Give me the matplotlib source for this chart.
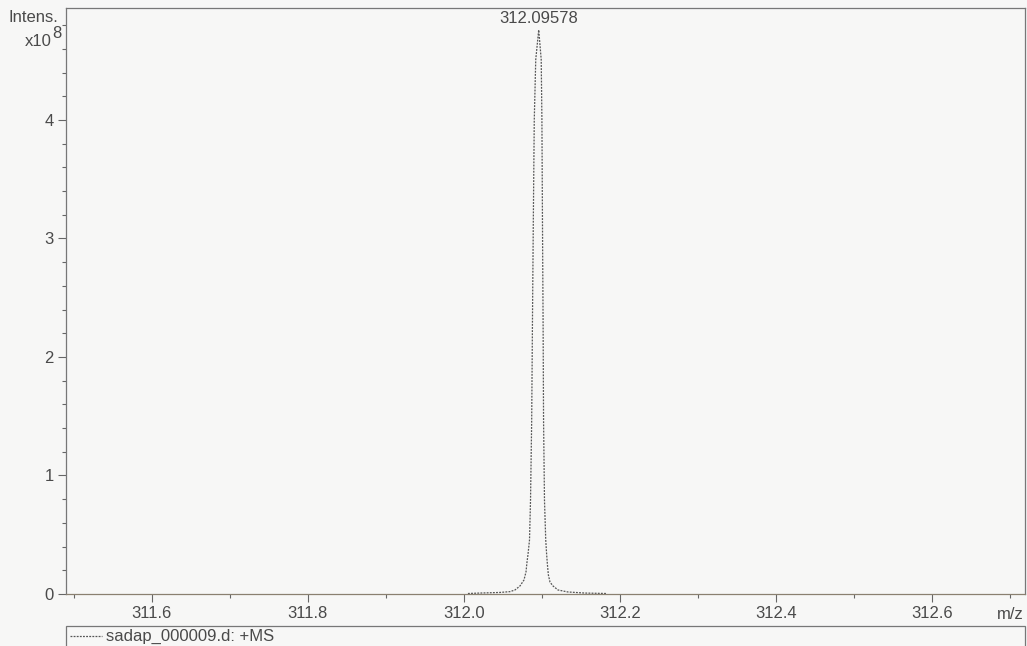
import matplotlib.pyplot as plt
from matplotlib.ticker import MultipleLocator
from matplotlib.patches import Rectangle

plt.rcParams['font.family'] = ['Liberation Sans', 'DejaVu Sans']

# profile (m/z, intensity in 1e8)
mz = [312.0051, 312.0205, 312.0460, 312.0590, 312.0654, 312.0718, 312.0769,
      312.0795, 312.0808, 312.0820, 312.0840, 312.0853, 312.0868, 312.0878,
      312.0889, 312.0901, 312.0920, 312.0958, 312.0990, 312.0999, 312.1006,
      312.1014, 312.1020, 312.1032, 312.1048, 312.1060, 312.1070, 312.1082,
      312.1103, 312.1141, 312.1205, 312.1333, 312.1550, 312.1833]
inten = [0.004, 0.008, 0.013, 0.020, 0.034, 0.068, 0.118,
         0.186, 0.270, 0.330, 0.456, 0.790, 1.470, 2.310,
         3.160, 4.000, 4.510, 4.760, 4.510, 4.000, 3.160,
         2.310, 1.470, 0.790, 0.456, 0.330, 0.245, 0.160,
         0.100, 0.068, 0.034, 0.017, 0.008, 0.004]
peak_mz = 312.09578
peak_int = 4.76
xticks = [311.6, 311.8, 312.0, 312.2, 312.4, 312.6]
yticks = [0, 1, 2, 3, 4]
legend_label = 'sadap_000009.d: +MS'

W, H = 1027, 646
bg = '#f7f7f6'
grey = '#4a4a4a'
fs = 12
fig = plt.figure(figsize=(W/100, H/100), dpi=100, facecolor=bg)
ax = fig.add_axes([66/W, (H-594)/H, (1025-66)/W, (594-8)/H], facecolor=bg)

ax.plot(mz, inten, linestyle=(0, (1.5, 1)), color='#555555', lw=0.9)
ax.annotate(f'{peak_mz:.5f}', (peak_mz, peak_int), xytext=(0, 3),
            textcoords='offset points', ha='center', va='bottom',
            fontsize=fs, color=grey)

ax.set_xlim(311.49, 312.719)
ax.set_ylim(0, 4.945)
ax.set_xticks(xticks)
ax.set_xticklabels([f'{t:.1f}' for t in xticks])
ax.set_yticks(yticks)
ax.xaxis.set_minor_locator(MultipleLocator(0.1))
ax.yaxis.set_minor_locator(MultipleLocator(0.2))
ax.tick_params(which='major', length=6, width=0.8, color='#666666',
               labelsize=fs, labelcolor=grey, pad=3)
ax.tick_params(which='minor', length=3, width=0.8, color='#666666')
for s in ax.spines.values():
    s.set_color('#777777')
    s.set_linewidth(0.9)
ax.spines['bottom'].set_color('#8a8070')
ax.text(312.7, -0.11, 'm/z', ha='center', va='top', fontsize=fs, color=grey)

fig.text(9/W, 1 - 18/H, 'Intens.', ha='left', va='center', fontsize=fs, color=grey)
fig.text(52/W, 1 - 42/H, 'x10', ha='right', va='center', fontsize=fs, color=grey)
fig.text(52/W, 1 - 34/H, '8', ha='left', va='center', fontsize=fs, color=grey)

# legend box under the axes
fig.patches.append(Rectangle((66/W, -0.01), (1025-66)/W, (646-626)/H + 0.01,
                             transform=fig.transFigure, fill=False,
                             edgecolor='#777777', lw=0.9))
fig.add_artist(plt.Line2D([70/W, 102/W], [1 - 636/H, 1 - 636/H], transform=fig.transFigure,
                          linestyle=(0, (1.5, 1)), color='#555555', lw=0.9))
fig.text(106/W, 1 - 636/H, legend_label, ha='left', va='center', fontsize=fs, color=grey)

fig.savefig('out.png', dpi=100, facecolor=bg)
